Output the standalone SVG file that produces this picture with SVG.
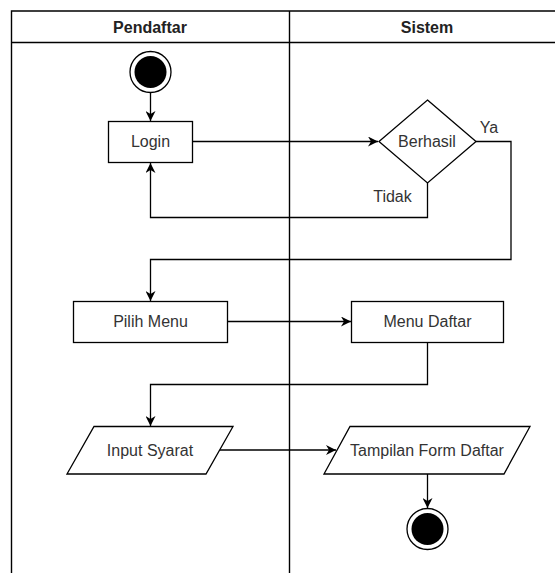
<svg xmlns="http://www.w3.org/2000/svg" width="555" height="573" viewBox="0 0 555 573">
  <style>
    .lane { fill: none; stroke: #000; stroke-width: 1.4; }
    .shape { fill: #fff; stroke: #000; stroke-width: 1.3; }
    .edge { fill: none; stroke: #000; stroke-width: 1.3; }
    .ring { fill: #fff; stroke: #000; stroke-width: 1.3; }
    .head { font-family: "Liberation Sans", Arial, sans-serif; font-size: 16px; font-weight: bold; fill: #222; text-anchor: middle; }
    .lbl { font-family: "Liberation Sans", Arial, sans-serif; font-size: 16px; fill: #333; text-anchor: middle; }
  </style>
  <defs>
    <marker id="arrow" markerUnits="userSpaceOnUse" markerWidth="10" markerHeight="10" viewBox="0 0 10 10" refX="10" refY="5" orient="auto">
      <path d="M0,0 L10,5 L0,10 L3,5 z" fill="#000"/>
    </marker>
  </defs>
  <rect width="555" height="573" fill="#fff"/>

  <!-- swimlanes -->
  <g id="lanes">
    <path class="lane" d="M11.5 580 V11 H560 M11.5 42.5 H560 M289.5 11 V580"/>
    <text class="head" x="150" y="33">Pendaftar</text>
    <text class="head" x="427" y="33">Sistem</text>
  </g>

  <!-- connectors -->
  <g id="connectors">
    <path class="edge" d="M150.5 93 V121" marker-end="url(#arrow)"/>
    <path class="edge" d="M192 141.5 H378" marker-end="url(#arrow)"/>
    <path class="edge" d="M476 141.5 H511 V259.5 H150.5 V301" marker-end="url(#arrow)"/>
    <path class="edge" d="M427.5 183 V217.5 H150.5 V163" marker-end="url(#arrow)"/>
    <path class="edge" d="M227 321.5 H351" marker-end="url(#arrow)"/>
    <path class="edge" d="M427.5 343 V384.5 H150.5 V426" marker-end="url(#arrow)"/>
    <path class="edge" d="M220 450 H336" marker-end="url(#arrow)"/>
    <path class="edge" d="M427.5 474 V508" marker-end="url(#arrow)"/>
    <text class="lbl" x="489" y="133">Ya</text>
    <text class="lbl" x="392.5" y="202">Tidak</text>
  </g>

  <!-- nodes -->
  <g id="start">
    <circle class="ring" cx="150.5" cy="72" r="20.5"/>
    <circle cx="150.5" cy="72" r="16" fill="#000"/>
  </g>
  <g id="login">
    <rect class="shape" x="108.5" y="121.5" width="84" height="41"/>
    <text class="lbl" x="150.5" y="147">Login</text>
  </g>
  <g id="berhasil">
    <path class="shape" d="M427.5 100 L476 141.5 L427.5 183 L379 141.5 z"/>
    <text class="lbl" x="427" y="147">Berhasil</text>
  </g>
  <g id="pilih-menu">
    <rect class="shape" x="73.5" y="301.5" width="154" height="41"/>
    <text class="lbl" x="150.5" y="327">Pilih Menu</text>
  </g>
  <g id="menu-daftar">
    <rect class="shape" x="351.5" y="301.5" width="152" height="41"/>
    <text class="lbl" x="427.5" y="327">Menu Daftar</text>
  </g>
  <g id="input-syarat">
    <path class="shape" d="M94 426.5 H233 L206 474 H67 z"/>
    <text class="lbl" x="150" y="455.5">Input Syarat</text>
  </g>
  <g id="tampilan-form">
    <path class="shape" d="M350 426.5 H530 L504 474 H324 z"/>
    <text class="lbl" x="427" y="455.5">Tampilan Form Daftar</text>
  </g>
  <g id="end">
    <circle class="ring" cx="427.5" cy="529" r="20.5"/>
    <circle cx="427.5" cy="529" r="16" fill="#000"/>
  </g>
</svg>
